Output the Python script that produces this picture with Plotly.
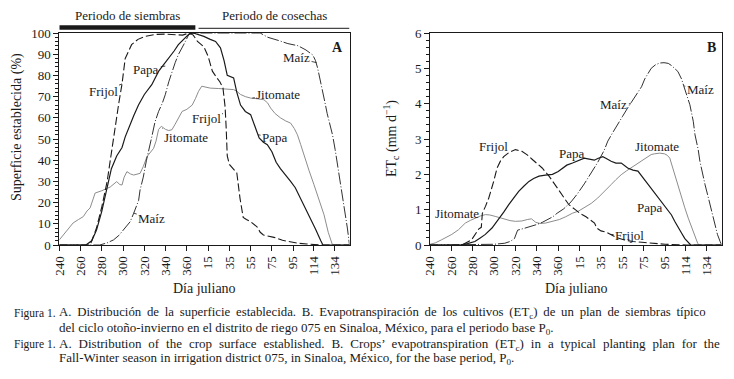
import plotly.graph_objects as go

# ---------------- axis ticks (julian day; values > 365 belong to next year) ----------------
tick_vals = [240, 260, 280, 300, 320, 340, 360, 380, 400, 420, 440, 460, 479, 499]
tick_text = ['240', '260', '280', '300', '320', '340', '360', '15', '35', '55', '75', '95', '114', '134']
x_range = [240, 513]

# ---------------- Panel A: established surface (%) ----------------
a_frijol_day = [240, 269, 275, 280, 285, 289, 292, 296, 299, 302, 308, 314, 321, 330, 340, 350, 356, 362,
                366, 370, 376, 380, 384, 388, 391, 394, 396, 397, 398, 400, 404, 407, 410, 413, 416, 420,
                426, 429, 432, 438, 442, 450, 457, 465, 473, 480, 485, 513]
a_frijol_val = [0, 0, 8, 18, 30, 44, 55, 67, 76, 88, 94.5, 97, 98.4, 99.3, 99.5, 99.3, 99, 100,
                99, 96, 93.5, 89, 82, 79, 77, 74, 65, 55, 42, 38, 36, 34, 22, 13, 12, 11,
                8.6, 6, 4.7, 4, 3.6, 2.2, 1.4, 0.8, 0.5, 0.2, 0, 0]

a_papa_day = [240, 265, 270.5, 275, 280, 285, 289, 294, 299, 302, 305, 310, 314.5, 320, 327, 333.5, 338,
              343, 348, 352, 357, 362, 366, 370, 376, 382, 387, 391.6, 395, 398, 404, 407, 410.5, 415,
              420, 424, 428, 432, 435.7, 440, 444, 448, 453, 457.6, 462, 467, 472, 476.5, 481, 486, 488, 513]
a_papa_val = [0, 0, 2, 7, 16, 27, 36, 42, 46, 51, 55, 61, 66, 71, 75.6, 82, 85,
              88, 91.5, 94.5, 97, 99.5, 100, 99.5, 98.4, 97, 96, 93, 87, 80, 78.8, 72, 66, 63,
              61.5, 56, 50.5, 48.5, 47.3, 44, 39, 36, 33, 30, 27, 22, 17, 12.7, 7.5, 2, 0, 0]

a_jitomate_day = [240, 245, 253, 258, 262.6, 266, 269, 273.7, 280, 288, 294, 297, 299, 301, 303.6, 307,
                  310, 316, 319, 322.5, 326, 328.7, 331, 333.4, 336, 340, 343, 346, 349, 352, 355.5, 360,
                  365, 368, 371, 374, 378, 382, 390, 398, 404, 407, 410.5, 415, 420, 426, 432.5, 436,
                  438.8, 443, 448, 453, 457.6, 461, 464, 467, 470, 475, 479.6, 484, 489, 493, 495.4, 497, 513]
a_jitomate_val = [2.4, 5.5, 10.4, 12, 13.4, 16, 17.5, 24.5, 25.6, 27.4, 29.9, 28.5, 28.3, 32, 34.6, 33.5,
                  33, 33.8, 37, 41.7, 44, 45.6, 49, 54.5, 56, 54.5, 54, 54.4, 57, 60, 63, 64,
                  66, 69, 72.5, 74.9, 74.5, 74, 73.8, 73.5, 73.3, 72.5, 71, 70, 69.3, 69, 68.5, 67,
                  64.6, 62, 60, 58.5, 57.5, 55, 52, 47.5, 42.6, 35, 28.4, 22, 14.3, 6, 1.7, 0, 0]

a_maiz_day = [240, 278, 285, 291, 296, 300, 304, 306.7, 310, 314.6, 316, 319, 322, 324, 327, 330, 333.4,
              337, 339.7, 343, 346, 349, 352, 355, 358.6, 361.7, 365, 429, 436, 446, 455, 464.5, 472,
              478.5, 481, 483, 485, 487, 490, 492, 494.5, 497, 499.5, 501.7, 504, 506.4, 509, 511, 513]
a_maiz_val = [0, 0, 1, 2.4, 4.5, 7, 9.5, 11, 15, 21, 26, 32, 40, 44, 51, 58, 63,
              67, 70.9, 77, 82, 86, 89.8, 93, 96, 99.2, 100, 100, 98, 96.5, 95, 94, 92,
              89.6, 87, 83.5, 79, 75, 67, 62, 57, 52, 45, 37.9, 31, 23.7, 15, 8, 0]

# ---------------- Panel B: crop evapotranspiration ETc (mm/d) ----------------
b_frijol_day = [240, 270, 279, 285.5, 288, 289, 292, 295, 299.6, 302.8, 306, 309, 314, 320, 326, 331,
                335.8, 340, 345, 351.4, 356, 360.8, 365, 370, 376, 381, 386, 391, 394, 396, 400, 405,
                409.5, 414, 422, 430, 441, 460, 480, 513]
b_frijol_val = [0, 0, 0.15, 0.45, 0.5, 0.9, 1.1, 1.33, 1.8, 2.18, 2.38, 2.5, 2.62, 2.7, 2.65, 2.55,
                2.42, 2.3, 2.18, 1.95, 1.75, 1.52, 1.35, 1.14, 1.0, 0.88, 0.8, 0.7, 0.62, 0.48, 0.4, 0.36,
                0.3, 0.22, 0.14, 0.1, 0.07, 0.02, 0, 0]

b_papa_day = [240, 268, 275, 282, 287, 291.8, 298, 304.3, 309, 313.7, 318, 323, 328, 332.6, 337, 342, 348,
              354.6, 360, 364, 368, 373.4, 378, 384.4, 389, 393.8, 397, 401.7, 405, 409.5, 414, 419, 425,
              430, 434.6, 439, 444, 449, 453.5, 458, 462.9, 466, 469, 472, 475.4, 478.5, 481.7, 484, 513]
b_papa_val = [0, 0, 0.04, 0.1, 0.2, 0.3, 0.48, 0.72, 0.93, 1.14, 1.33, 1.52, 1.67, 1.8, 1.88, 1.95, 1.98,
              2.0, 2.08, 2.18, 2.26, 2.32, 2.38, 2.46, 2.43, 2.4, 2.45, 2.5, 2.45, 2.37, 2.32, 2.32, 2.18,
              2.12, 2.09, 1.92, 1.71, 1.52, 1.33, 1.17, 1.0, 0.85, 0.67, 0.5, 0.34, 0.18, 0.08, 0, 0]

b_jitomate_day = [240, 245, 251, 256, 260.4, 266.6, 273, 278, 282, 287, 291.8, 296, 301, 306, 310.6, 315,
                  320, 326, 331, 335, 339, 343, 348, 354, 361, 367, 373.4, 379, 384.4, 391, 397, 403,
                  409.5, 414, 419, 424, 428, 433, 437.7, 441, 444, 447, 450, 455, 459.5, 462, 464.4,
                  466.5, 469, 472, 475.4, 478.5, 481.7, 485, 488, 490.5, 492, 513]
b_jitomate_val = [0.02, 0.06, 0.15, 0.22, 0.3, 0.43, 0.62, 0.7, 0.76, 0.82, 0.86, 0.85, 0.81, 0.76, 0.72, 0.69,
                  0.67, 0.68, 0.72, 0.74, 0.64, 0.61, 0.62, 0.66, 0.72, 0.8, 0.9, 0.96, 1.05, 1.18, 1.33, 1.5,
                  1.71, 1.85, 1.99, 2.1, 2.18, 2.28, 2.37, 2.43, 2.51, 2.56, 2.58, 2.6, 2.58, 2.54, 2.46,
                  2.25, 1.99, 1.65, 1.33, 1.05, 0.76, 0.5, 0.3, 0.05, 0, 0]

b_maiz_day = [240, 290, 300, 310, 315, 319, 320.5, 322, 328, 334, 340, 345, 350, 355, 359, 365, 372, 378,
              384.4, 390, 397, 403, 406.4, 411, 415.8, 420, 425, 430, 434.6, 438, 441, 444, 447, 451, 455,
              459, 463, 466, 469, 472, 475.4, 478.5, 480.5, 483.2, 486.4, 488, 489.5, 491, 492.6, 495, 497.4,
              500, 502, 504.5, 506.8, 509, 511.5, 513]
b_maiz_val = [0, 0, 0.02, 0.05, 0.1, 0.18, 0.3, 0.42, 0.47, 0.52, 0.58, 0.64, 0.71, 0.8, 0.9, 1.02, 1.22, 1.45,
              1.73, 2.0, 2.34, 2.68, 2.94, 3.18, 3.4, 3.63, 3.88, 4.1, 4.3, 4.48, 4.7, 4.87, 5.0, 5.1, 5.15,
              5.16, 5.14, 5.08, 5.0, 4.91, 4.7, 4.44, 4.22, 3.97, 3.5, 3.12, 2.95, 2.7, 2.37, 2.0, 1.71,
              1.4, 1.14, 0.85, 0.58, 0.3, 0.1, 0]

# ---------------- periods above panel A ----------------
period_names = ['Periodo de siembras', 'Periodo de cosechas']
period_start = [240, 371]
period_end = [368, 513]

FONT = 'Liberation Serif'
INK = '#1a1a1a'

styles = {
    'Papa': dict(color=INK, width=1.2, dash='solid'),
    'Frijol': dict(color=INK, width=1.1, dash='8px,3px'),
    'Jitomate': dict(color='#8c8c8c', width=1.0, dash='solid'),
    'Maíz': dict(color=INK, width=0.9, dash='12px,2px,1px,2px'),
}

fig = go.Figure()

series_a = [('Jitomate', a_jitomate_day, a_jitomate_val), ('Maíz', a_maiz_day, a_maiz_val),
            ('Frijol', a_frijol_day, a_frijol_val), ('Papa', a_papa_day, a_papa_val)]
series_b = [('Jitomate', b_jitomate_day, b_jitomate_val), ('Maíz', b_maiz_day, b_maiz_val),
            ('Frijol', b_frijol_day, b_frijol_val), ('Papa', b_papa_day, b_papa_val)]

for name, xs, ys in series_a:
    fig.add_trace(go.Scatter(x=xs, y=ys, mode='lines', name=name, line=styles[name],
                             xaxis='x', yaxis='y', showlegend=False, hoverinfo='skip'))
for name, xs, ys in series_b:
    fig.add_trace(go.Scatter(x=xs, y=ys, mode='lines', name=name, line=styles[name],
                             xaxis='x2', yaxis='y2', showlegend=False, hoverinfo='skip'))

W, H = 734, 379
def px(v):
    return v / W
def py(v):
    return 1 - v / H

axis_common = dict(showgrid=False, zeroline=False, showline=True, linecolor=INK, linewidth=1,
                   mirror=True, ticks='outside', tickcolor=INK, ticklen=5, tickwidth=1,
                   automargin=False, tickfont=dict(family=FONT, size=13, color=INK))

xaxis_common = dict(axis_common, range=x_range, tickmode='array', tickvals=tick_vals,
                    ticktext=tick_text, tickangle=-90)

fig.update_layout(
    template='none',
    width=W, height=H,
    margin=dict(l=0, r=0, t=0, b=0, pad=0),
    paper_bgcolor='white', plot_bgcolor='white',
    xaxis=dict(xaxis_common, domain=[px(59.3), px(349.5)], anchor='y'),
    yaxis=dict(axis_common, domain=[py(245), py(33)], range=[0, 100], dtick=10, anchor='x',
               minor=dict(dtick=2, ticks='outside', ticklen=3, tickcolor=INK)),
    xaxis2=dict(xaxis_common, domain=[px(430), px(721.7)], anchor='y2'),
    yaxis2=dict(axis_common, domain=[py(245), py(33)], range=[0, 6], dtick=1, anchor='x2',
                minor=dict(dtick=0.2, ticks='outside', ticklen=3, tickcolor=INK)),
)

ann = []
def label(text, xref, yref, x, y, size=13, **kw):
    d = dict(text=text, xref=xref, yref=yref, x=x, y=y, showarrow=False,
             xanchor='center', yanchor='middle',
             font=dict(family=FONT, size=size, color=INK))
    d.update(kw)
    ann.append(d)

def leader(text, xref, yref, x, y, ax, ay, size=13):
    ann.append(dict(text=text, xref=xref, yref=yref, x=x, y=y, showarrow=True, arrowhead=0,
                    arrowwidth=0.8, arrowcolor=INK, ax=ax, ay=ay, standoff=0, startstandoff=0,
                    font=dict(family=FONT, size=size, color=INK)))

# Panel A curve labels
leader('Frijol', 'x', 'y', 299, 76, -19, 8)
leader('Papa', 'x', 'y', 339.7, 84.4, -19, 3)
leader('Frijol', 'x', 'y', 394, 62, -17, 5)
leader('Jitomate', 'x', 'y', 337, 55, 24, 9)
leader('Maíz', 'x', 'y', 310, 15, 18, 5)
leader('Maíz', 'x', 'y', 482, 86, -20, -5)
leader('Jitomate', 'x', 'y', 421.6, 69.3, 26, -4)
leader('Papa', 'x', 'y', 427, 52, 17, 3)
label('<b>A</b>', 'x', 'y', 502, 93, size=14)

# Panel B curve labels
label('Frijol', 'x2', 'y2', 299, 2.78)
label('Papa', 'x2', 'y2', 373, 2.6)
label('Jitomate', 'x2', 'y2', 452, 2.78)
label('Jitomate', 'x2', 'y2', 265, 0.9)
leader('Maíz', 'x2', 'y2', 428, 4.0, -17, 1)
leader('Maíz', 'x2', 'y2', 478, 4.5, 16, 3)
leader('Papa', 'x2', 'y2', 458, 1.17, -13, 4)
leader('Frijol', 'x2', 'y2', 409, 0.3, 19, 1)
label('<b>B</b>', 'x2', 'y2', 503, 5.6, size=14)

# Axis titles
label('Día juliano', 'paper', 'paper', px(204), py(288), size=14)
label('Día juliano', 'paper', 'paper', px(576), py(288), size=14)
label('Superficie establecida (%)', 'paper', 'paper', px(17), py(127), size=14, textangle=-90)
label('ET<sub>c</sub> (mm d<sup>−1</sup>)', 'paper', 'paper', px(391), py(139), size=14, textangle=-90)

# Period labels and bars
shapes = []
for i, (name, s, e) in enumerate(zip(period_names, period_start, period_end)):
    label(name, 'x', 'paper', (s + e) / 2, py(15), size=13)
    yy = py(27.5 if i == 0 else 28.3)
    shapes.append(dict(type='line', xref='x', yref='paper', x0=s, x1=e, y0=yy, y1=yy,
                       line=dict(color=INK, width=4.5 if i == 0 else 1)))

# Caption (justified lines get widened word spacing)
cap = 13
THIN = '\u2009'
def justify(s, extra):
    return s.replace(' ', ' ' + extra)

label('Figura 1.', 'paper', 'paper', px(12), py(313), size=11.5, xanchor='left')
label(justify('A. Distribución de la superficie establecida. B. Evapotranspiración de los cultivos (ET<sub>c</sub>) de un plan de siembras típico', THIN),
      'paper', 'paper', px(57), py(313), size=12.8, xanchor='left')
label('del ciclo otoño-invierno en el distrito de riego 075 en Sinaloa, México, para el periodo base P<sub>0</sub>.',
      'paper', 'paper', px(57), py(328), size=cap, xanchor='left')
label('Figure 1.', 'paper', 'paper', px(12), py(344), size=11.5, xanchor='left')
label(justify('A. Distribution of the crop surface established. B. Crops’ evapotranspiration (ET<sub>c</sub>) in a typical planting plan for the', THIN + '\u200a'),
      'paper', 'paper', px(57), py(344), size=cap, xanchor='left')
label('Fall-Winter season in irrigation district 075, in Sinaloa, México, for the base period, P<sub>0</sub>.',
      'paper', 'paper', px(57), py(358), size=cap, xanchor='left')

fig.update_layout(annotations=ann, shapes=shapes)
fig.write_html('out.html', config={'displayModeBar': False},
               post_script="document.body.style.margin='0';document.body.style.overflow='hidden';")
